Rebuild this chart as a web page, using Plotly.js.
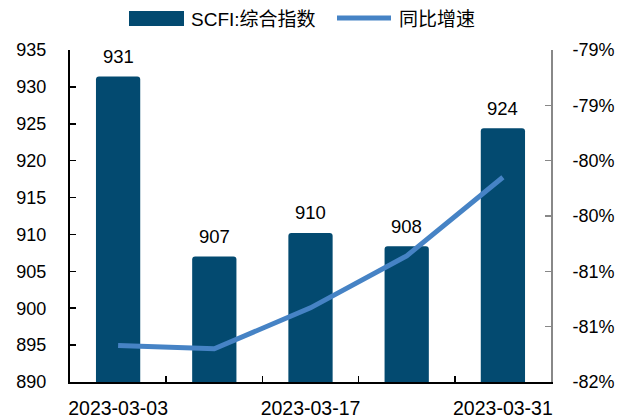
<!DOCTYPE html>
<html>
<head>
<meta charset="utf-8">
<script src="https://cdn.plot.ly/plotly-3.0.1.min.js"></script>
<style>html,body{margin:0;padding:0;background:#fff;}#chart{width:633px;height:419px;}</style>
</head>
<body>
<div id="chart"></div>
<script>
const categories = ["2023-03-03", "2023-03-10", "2023-03-17", "2023-03-24", "2023-03-31"];
const tickLabels = ["2023-03-03", "", "2023-03-17", "", "2023-03-31"];
const scfiValues = [931.4, 907.0, 910.2, 908.4, 924.4];
const yoyValues = [-81.67, -81.70, -81.33, -80.86, -80.15];
const rightTickVals = [-82, -81.5, -81, -80.5, -80, -79.5, -79];
const rightTickText = ["-82%", "-81%", "-81%", "-80%", "-80%", "-79%", "-79%"];
const seriesNames = ["SCFI:综合指数", "同比增速"];

const barColor = "#034a70";
const lineColor = "#4683c5";
const FONT = "Liberation Sans, Arial, Noto Sans CJK SC, sans-serif";

const traces = [
  {
    type: "bar",
    x: categories,
    y: scfiValues,
    name: seriesNames[0],
    marker: {color: barColor},
    hoverinfo: "x+y",
    showlegend: false
  },
  {
    type: "scatter",
    mode: "lines",
    x: categories,
    y: yoyValues,
    yaxis: "y2",
    name: seriesNames[1],
    line: {color: lineColor, width: 5},
    showlegend: false
  }
];

const annotations = categories.map((c, i) => ({
  x: c, y: scfiValues[i], xref: "x", yref: "y",
  text: Math.round(scfiValues[i]).toString(),
  showarrow: false, yanchor: "middle", yshift: 20,
  font: {family: FONT, size: 18.5, color: "#000"}
}));

annotations.push(
  {xref: "paper", yref: "paper", x: (189 - 70) / 481, y: 1 + (50 - 20) / 332,
   xanchor: "left", yanchor: "middle", text: seriesNames[0], showarrow: false,
   font: {family: FONT, size: 19, color: "#000"}},
  {xref: "paper", yref: "paper", x: (397 - 70) / 481, y: 1 + (50 - 20) / 332,
   xanchor: "left", yanchor: "middle", text: seriesNames[1], showarrow: false,
   font: {family: FONT, size: 19, color: "#000"}}
);

const shapes = [
  {type: "rect", xref: "paper", yref: "paper",
   x0: (129 - 70) / 481, x1: (184 - 70) / 481,
   y0: 1 + (50 - 26) / 332, y1: 1 + (50 - 11) / 332,
   fillcolor: barColor, line: {width: 0}},
  {type: "line", xref: "paper", yref: "paper",
   x0: (337 - 70) / 481, x1: (391 - 70) / 481,
   y0: 1 + (50 - 18) / 332, y1: 1 + (50 - 18) / 332,
   line: {color: lineColor, width: 5}}
];

const layout = {
  width: 633, height: 419,
  margin: {l: 70, r: 82, t: 50, b: 37, pad: 0},
  paper_bgcolor: "#fff", plot_bgcolor: "#fff",
  font: {family: FONT, size: 18, color: "#000"},
  bargap: 0.54,
  barcornerradius: 3,
  showlegend: false,
  xaxis: {
    type: "category",
    tickvals: categories, ticktext: tickLabels,
    tickson: "boundaries",
    tickangle: 0,
    ticks: "inside", ticklen: 6, tickwidth: 1.5, tickcolor: "#000",
    showline: true, linecolor: "#000", linewidth: 2,
    showgrid: false, zeroline: false,
    ticklabelstandoff: 8,
    tickfont: {family: FONT, size: 19.5, color: "#000"}
  },
  yaxis: {
    range: [890, 935], dtick: 5, tick0: 890,
    ticks: "inside", ticklen: 6, tickwidth: 1.5, tickcolor: "#000",
    showline: true, linecolor: "#000", linewidth: 2,
    showgrid: false, zeroline: false,
    ticklabelstandoff: 18,
    tickfont: {family: FONT, size: 18, color: "#000"}
  },
  yaxis2: {
    overlaying: "y", side: "right",
    range: [-82, -79],
    tickvals: rightTickVals, ticktext: rightTickText,
    ticks: "inside", ticklen: 6, tickwidth: 1.5, tickcolor: "#888",
    showline: true, linecolor: "#888", linewidth: 2,
    showgrid: false, zeroline: false,
    ticklabelstandoff: 16,
    tickfont: {family: FONT, size: 18, color: "#000"}
  },
  annotations: annotations,
  shapes: shapes
};

Plotly.newPlot("chart", traces, layout, {displayModeBar: false, staticPlot: true});
</script>
</body>
</html>
